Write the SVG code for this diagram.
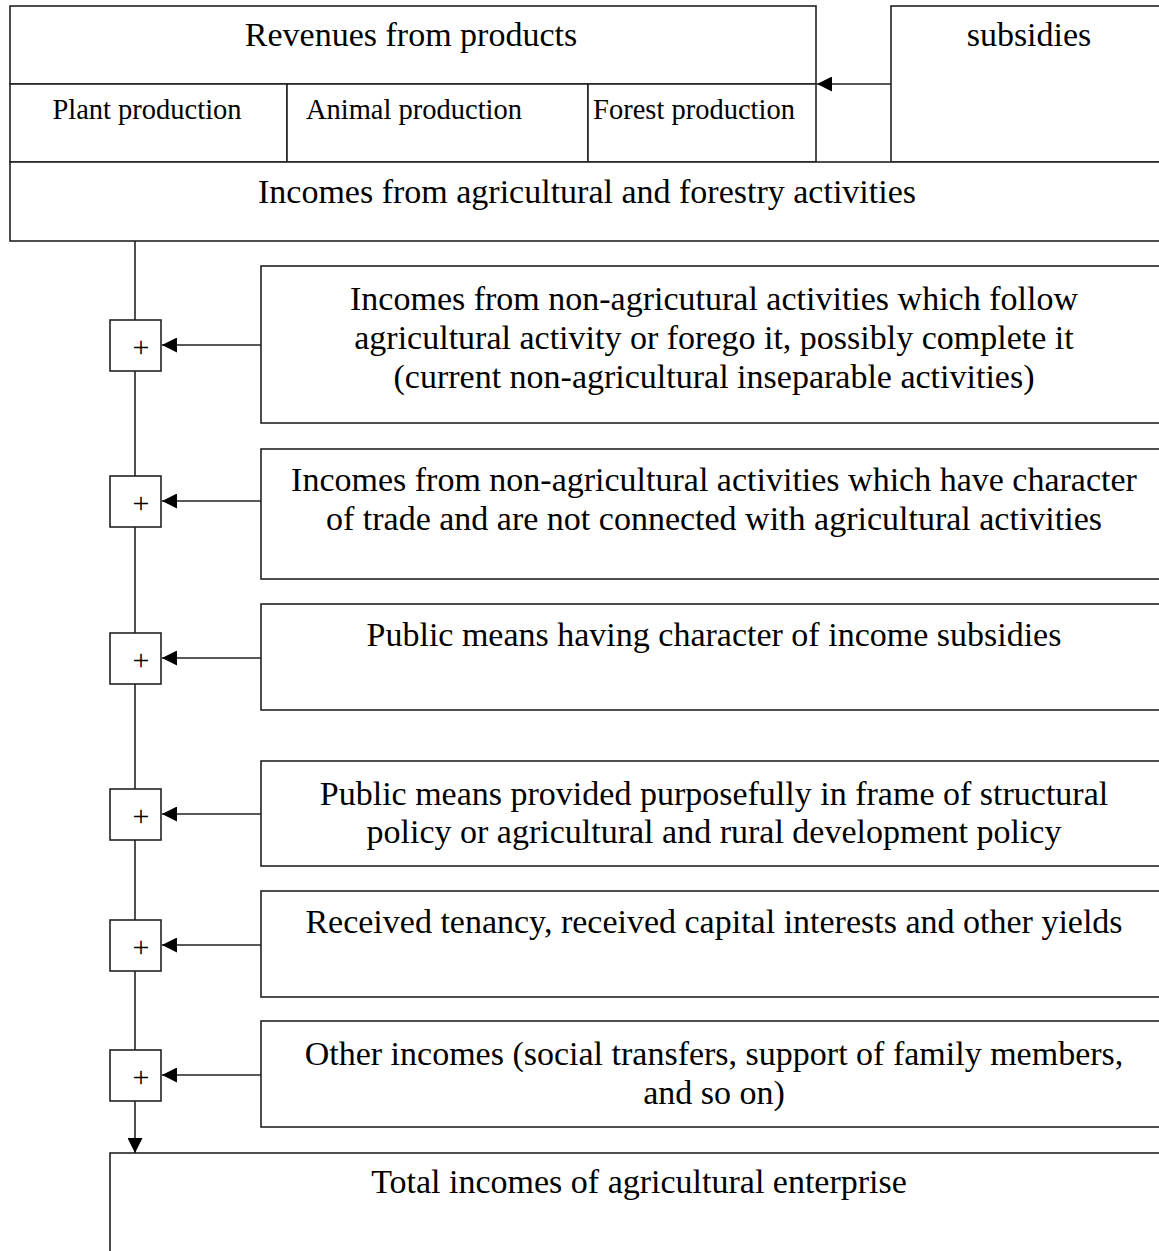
<svg xmlns="http://www.w3.org/2000/svg" width="1159" height="1251" viewBox="0 0 1159 1251">
<style>
.b{fill:#fff;stroke:#222;stroke-width:1.6}
.l{fill:none;stroke:#222;stroke-width:1.6}
.t{font-family:"Liberation Serif","Times New Roman",serif;font-size:34px;fill:#000;text-anchor:middle}
.s{font-family:"Liberation Serif","Times New Roman",serif;font-size:28.5px;fill:#000;text-anchor:middle}
.p{font-family:"Liberation Serif","Times New Roman",serif;font-size:30px;fill:#000;text-anchor:middle}
</style>
<defs>
<marker id="ah" viewBox="0 0 10 10" refX="10" refY="5" markerWidth="16" markerHeight="15" markerUnits="userSpaceOnUse" orient="auto">
<path d="M0,0 L10,5 L0,10 Z" fill="#000"/>
</marker>
</defs>
<rect width="1159" height="1251" fill="#fff"/>
<g id="revenues">
<rect class="b" x="10" y="6" width="806" height="78"/>
<text class="t" x="411" y="46">Revenues from products</text>
</g>
<g id="plant">
<rect class="b" x="10" y="84" width="277" height="78"/>
<text class="s" x="147" y="119">Plant production</text>
</g>
<g id="animal">
<rect class="b" x="287" y="84" width="301" height="78"/>
<text class="s" x="414" y="119">Animal production</text>
</g>
<g id="forest">
<rect class="b" x="588" y="84" width="228" height="78"/>
<text class="s" x="694" y="119">Forest production</text>
</g>
<g id="subsidies">
<rect class="b" x="891" y="6" width="276" height="156"/>
<text class="t" x="1029" y="46">subsidies</text>
</g>
<g id="incomes-agri">
<rect class="b" x="10" y="162" width="1157" height="79"/>
<text class="t" x="587" y="203">Incomes from agricultural and forestry activities</text>
</g>
<g id="box1">
<rect class="b" x="261" y="266" width="906" height="157"/>
<text class="t" x="714" y="310">Incomes from non-agricutural activities which follow</text>
<text class="t" x="714" y="349">agricultural activity or forego it, possibly complete it</text>
<text class="t" x="714" y="388">(current non-agricultural inseparable activities)</text>
</g>
<g id="box2">
<rect class="b" x="261" y="449" width="906" height="130"/>
<text class="t" x="714" y="491">Incomes from non-agricultural activities which have character</text>
<text class="t" x="714" y="530">of trade and are not connected with agricultural activities</text>
</g>
<g id="box3">
<rect class="b" x="261" y="604" width="906" height="106"/>
<text class="t" x="714" y="646">Public means having character of income subsidies</text>
</g>
<g id="box4">
<rect class="b" x="261" y="761" width="906" height="105"/>
<text class="t" x="714" y="805">Public means provided purposefully in frame of structural</text>
<text class="t" x="714" y="843">policy or agricultural and rural development policy</text>
</g>
<g id="box5">
<rect class="b" x="261" y="891" width="906" height="106"/>
<text class="t" x="714" y="933">Received tenancy, received capital interests and other yields</text>
</g>
<g id="box6">
<rect class="b" x="261" y="1021" width="906" height="106"/>
<text class="t" x="714" y="1065">Other incomes (social transfers, support of family members,</text>
<text class="t" x="714" y="1104">and so on)</text>
</g>
<g id="total">
<rect class="b" x="110" y="1153" width="1057" height="110"/>
<text class="t" x="639" y="1193">Total incomes of agricultural enterprise</text>
</g>
<g id="connectors">
<line class="l" x1="891" y1="84" x2="817" y2="84" marker-end="url(#ah)"/>
<line class="l" x1="135" y1="241" x2="135" y2="320"/>
<line class="l" x1="135" y1="371" x2="135" y2="476"/>
<line class="l" x1="135" y1="527" x2="135" y2="633"/>
<line class="l" x1="135" y1="684" x2="135" y2="789"/>
<line class="l" x1="135" y1="840" x2="135" y2="920"/>
<line class="l" x1="135" y1="971" x2="135" y2="1050"/>
<line class="l" x1="135" y1="1101" x2="135" y2="1153" marker-end="url(#ah)"/>
<line class="l" x1="261" y1="345" x2="162" y2="345" marker-end="url(#ah)"/>
<line class="l" x1="261" y1="501" x2="162" y2="501" marker-end="url(#ah)"/>
<line class="l" x1="261" y1="658" x2="162" y2="658" marker-end="url(#ah)"/>
<line class="l" x1="261" y1="814" x2="162" y2="814" marker-end="url(#ah)"/>
<line class="l" x1="261" y1="945" x2="162" y2="945" marker-end="url(#ah)"/>
<line class="l" x1="261" y1="1075" x2="162" y2="1075" marker-end="url(#ah)"/>
</g>
<g id="plus1"><rect class="b" x="110" y="320" width="51" height="51"/><text class="p" x="141" y="357">+</text></g>
<g id="plus2"><rect class="b" x="110" y="476" width="51" height="51"/><text class="p" x="141" y="513">+</text></g>
<g id="plus3"><rect class="b" x="110" y="633" width="51" height="51"/><text class="p" x="141" y="670">+</text></g>
<g id="plus4"><rect class="b" x="110" y="789" width="51" height="51"/><text class="p" x="141" y="826">+</text></g>
<g id="plus5"><rect class="b" x="110" y="920" width="51" height="51"/><text class="p" x="141" y="957">+</text></g>
<g id="plus6"><rect class="b" x="110" y="1050" width="51" height="51"/><text class="p" x="141" y="1087">+</text></g>
</svg>
